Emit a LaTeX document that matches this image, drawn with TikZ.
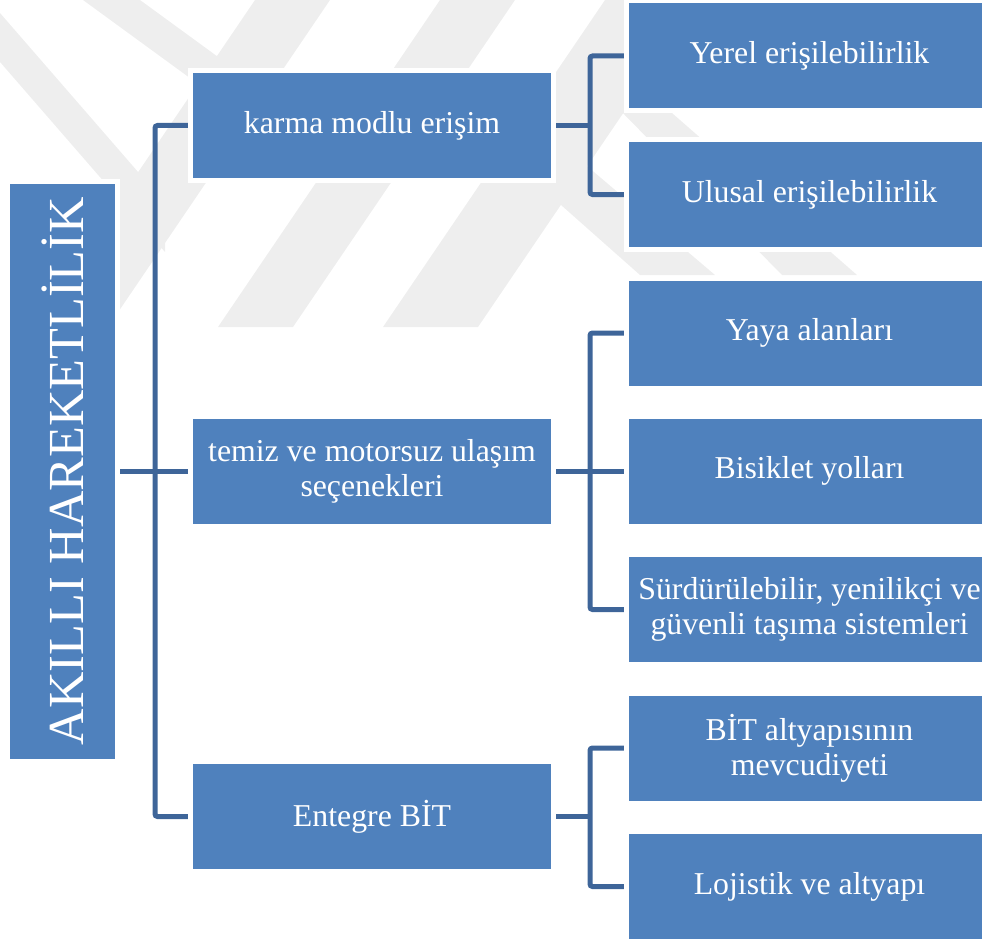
\documentclass[tikz,border=0pt]{standalone}
\usepackage{fontspec}
\setmainfont{Liberation Serif}
\definecolor{boxblue}{HTML}{4F81BD}
\definecolor{linkblue}{HTML}{3E6599}
\definecolor{markgrey}{HTML}{EEEEEE}
\pgfdeclarelayer{marks}
\pgfdeclarelayer{links}
\pgfsetlayers{marks,links,main}
\begin{document}
\begin{tikzpicture}[x=1pt,y=-1pt,
  box/.style={fill=boxblue, draw=white, line width=5pt, text=white,
    align=center, inner sep=0pt, minimum height=110pt,
    font=\fontsize{31.8}{35}\selectfont},
  lvlone/.style={box, minimum width=363pt},
  lvltwo/.style={box, minimum width=366pt},
  rootbox/.style={box, minimum width=110pt, minimum height=580pt,
    font=\fontsize{50.5}{55}\selectfont},
  link/.style={draw=linkblue, line width=5pt, rounded corners=2.5pt},
  band/.style={fill=markgrey}]
\useasboundingbox (0,0) rectangle (982,939);

% faint striped emblem in the upper part of the page
\begin{pgfonlayer}{marks}
  \begin{scope}
    \clip (0,0) rectangle (982,327);
    \fill[band] (33,327) -- (108,327) -- (330,0) -- (255,0) -- cycle;
    \fill[band] (218,327) -- (293,327) -- (515,0) -- (440,0) -- cycle;
    \fill[band] (383,327) -- (478,327) -- (700,0) -- (605,0) -- cycle;
    \fill[band] (0,13) -- (0,62) -- (165,252) -- (165,203) -- cycle;
    \fill[band] (83,0) -- (140,0) -- (384,178) -- (327,178) -- cycle;
  \end{scope}
  \begin{scope}
    \clip (0,0) rectangle (982,275);
    \fill[band] (527,115) -- (561,205) -- (640,275) -- (715,275) -- cycle;
    \fill[band] (610,100) -- (640,85) -- (857,275) -- (782,275) -- cycle;
  \end{scope}
\end{pgfonlayer}

% root
\node[rootbox] (root) at (62.5,471) {\rotatebox{90}{AKILLI HAREKETLİLİK}};

% first level
\node[lvlone] (karma)   at (372,125.5) {karma modlu erişim};
\node[lvlone] (temiz)   at (372,471)   {temiz ve motorsuz ulaşım\\seçenekleri};
\node[lvlone] (entegre) at (372,816.5) {Entegre BİT};

% second level
\node[lvltwo] (yerel)    at (809.5,56)    {Yerel erişilebilirlik};
\node[lvltwo] (ulusal)   at (809.5,194.5) {Ulusal erişilebilirlik};
\node[lvltwo] (yaya)     at (809.5,333)   {Yaya alanları};
\node[lvltwo] (bisiklet) at (809.5,471)   {Bisiklet yolları};
\node[lvltwo] (surdur)   at (809.5,609.5) {Sürdürülebilir, yenilikçi ve\\güvenli taşıma sistemleri};
\node[lvltwo] (bitalt)   at (809.5,748)   {BİT altyapısının\\mevcudiyeti};
\node[lvltwo] (lojistik) at (809.5,886.5) {Lojistik ve altyapı};

% bracket connectors
\coordinate (trunk) at (155,0);
\coordinate (busa) at (590,0);
\begin{pgfonlayer}{links}
  \draw[link] (root.east) -- (temiz.west);
  \draw[link] (karma.west) -- (karma.west -| trunk) -- (entegre.west -| trunk) -- (entegre.west);

  \draw[link] (karma.east) -- (karma.east -| busa);
  \draw[link] (yerel.west) -- (yerel.west -| busa) -- (ulusal.west -| busa) -- (ulusal.west);

  \draw[link] (temiz.east) -- (bisiklet.west);
  \draw[link] (yaya.west) -- (yaya.west -| busa) -- (surdur.west -| busa) -- (surdur.west);

  \draw[link] (entegre.east) -- (entegre.east -| busa);
  \draw[link] (bitalt.west) -- (bitalt.west -| busa) -- (lojistik.west -| busa) -- (lojistik.west);
\end{pgfonlayer}
\end{tikzpicture}
\end{document}
